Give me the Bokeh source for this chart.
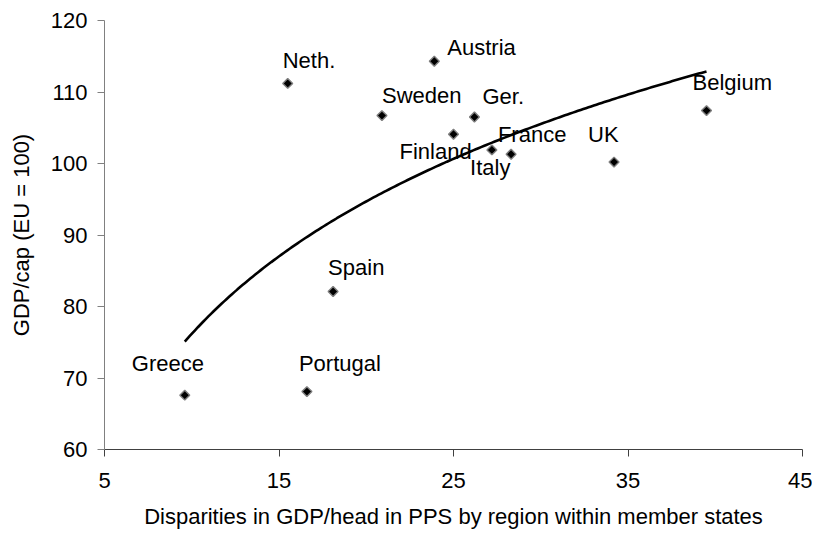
import numpy as np
from bokeh.plotting import figure
from bokeh.models import ColumnDataSource, Range1d, FixedTicker
from bokeh.core.properties import value
from bokeh.embed import file_html
from bokeh.resources import INLINE

# Data
countries = ["Greece", "Neth.", "Portugal", "Spain", "Sweden", "Austria",
             "Finland", "Ger.", "France", "Italy", "UK", "Belgium"]
disparity = [9.6, 15.5, 16.6, 18.1, 20.9, 23.9, 25.0, 26.2, 27.2, 28.3, 34.2, 39.5]
gdp_cap = [67.6, 111.2, 68.1, 82.1, 106.7, 114.3, 104.1, 106.5, 101.9, 101.3, 100.2, 107.4]
x_ticks = [5, 15, 25, 35, 45]
y_ticks = [60, 70, 80, 90, 100, 110, 120]

# label placement (screen px offsets from point: left edge, baseline)
label_dx = [-53, -5, -8, -5, 0, 13, -54, 8, 6, -41, -26, -14]
label_dy = [-32, -23, -28, -24, -20, -14, 17, -21, -15, 13, -28, -28]

FONT = "Liberation Sans"

p = figure(width=812, height=536, output_backend="svg", toolbar_location=None,
           x_range=Range1d(5, 45), y_range=Range1d(60, 120),
           min_border_left=104, min_border_right=10, min_border_top=20,
           min_border_bottom=87)
p.outline_line_color = None
p.grid.visible = False
p.background_fill_color = "white"

# Logarithmic trendline fitted to the data
lx = np.log(np.array(disparity))
b, a = np.polyfit(lx, np.array(gdp_cap), 1)
xt = np.linspace(min(disparity), max(disparity), 200)
yt = a + b * np.log(xt)
p.line(xt, yt, line_color="black", line_width=2.6)

src = ColumnDataSource(dict(x=disparity, y=gdp_cap, name=countries,
                            dx=label_dx, dy=label_dy))
p.scatter("x", "y", source=src, marker="square", size=7, angle=np.pi / 4,
          fill_color="black", line_color="#7f7f7f", line_width=1.4)
p.text("x", "y", text="name", source=src, x_offset="dx", y_offset="dy",
       text_font=value(FONT), text_font_size="22px", text_color="black",
       text_align="left", text_baseline="alphabetic")

for ax in (p.xaxis[0], p.yaxis[0]):
    ax.major_label_text_font = FONT
    ax.major_label_text_font_size = "22px"
    ax.major_label_text_color = "black"
    ax.axis_label_text_font = FONT
    ax.axis_label_text_font_size = "22px"
    ax.axis_label_text_font_style = "normal"
    ax.axis_label_text_color = "black"
    ax.minor_tick_line_color = None
    ax.major_tick_in = 0
    ax.major_tick_out = 7

p.xaxis.ticker = FixedTicker(ticks=x_ticks)
p.yaxis.ticker = FixedTicker(ticks=y_ticks)
p.xaxis.axis_label = "Disparities in GDP/head in PPS by region within member states"
p.yaxis.axis_label = "GDP/cap (EU = 100)"
p.xaxis.axis_line_color = "#404040"
p.xaxis.major_tick_line_color = "#404040"
p.yaxis.axis_line_color = "#808080"
p.yaxis.major_tick_line_color = "#808080"
p.xaxis.major_label_standoff = 16
p.xaxis.axis_label_standoff = 13
p.yaxis.major_label_standoff = 10
p.yaxis.axis_label_standoff = 14

open("out.html", "w").write(file_html(p, INLINE))
